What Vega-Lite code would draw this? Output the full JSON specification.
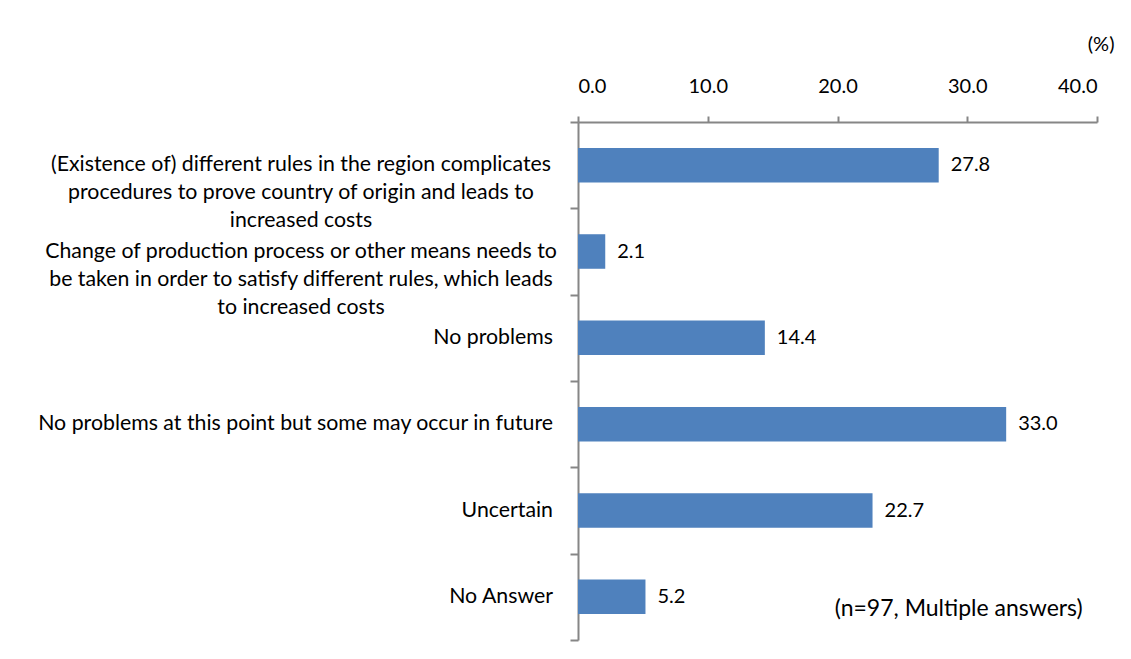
{
  "$schema": "https://vega.github.io/schema/vega-lite/v6.json",
  "width": 519,
  "height": 518,
  "autosize": {"type": "none"},
  "padding": {"left": 578, "top": 122, "right": 34, "bottom": 19},
  "background": "white",
  "config": {"font": "Lato", "view": {"stroke": null}},
  "data": {"values": [
    {"item": "(Existence of) different rules in the region complicates|procedures to prove country of origin and leads to|increased costs", "pct": 27.8, "note": null},
    {"item": "Change of production process or other means needs to|be taken in order to satisfy different rules, which leads|to increased costs", "pct": 2.1, "note": null},
    {"item": "No problems", "pct": 14.4, "note": null},
    {"item": "No problems at this point but some may occur in future", "pct": 33.0, "note": null},
    {"item": "Uncertain", "pct": 22.7, "note": null},
    {"item": "No Answer", "pct": 5.2, "note": "(n=97, Multiple answers)"}
  ]},
  "encoding": {
    "y": {
      "field": "item", "type": "nominal", "sort": null,
      "scale": {"paddingInner": 0, "paddingOuter": 0},
      "axis": {
        "title": null,
        "orient": "left",
        "labels": false,
        "domainColor": "#868686", "domainWidth": 2,
        "tickColor": "#868686", "tickWidth": 2, "tickSize": 8,
        "tickBand": "extent"
      }
    }
  },
  "layer": [
    {
      "mark": {"type": "bar", "color": "#4F81BD", "height": {"band": 0.4}},
      "encoding": {
        "x": {
          "field": "pct", "type": "quantitative",
          "scale": {"domain": [0, 40], "nice": false},
          "axis": {
            "orient": "top",
            "values": [0, 10, 20, 30, 40],
            "format": ".1f",
            "grid": false,
            "domainColor": "#868686", "domainWidth": 2,
            "tickColor": "#868686", "tickWidth": 2, "tickSize": 6,
            "labelFont": "Lato", "labelFontSize": 20, "labelColor": "#000000",
            "labelPadding": 20,
            "title": "(%)",
            "titleFont": "Lato", "titleFontSize": 20, "titleFontWeight": "normal", "titleColor": "#000000",
            "titleAngle": 0, "titleAlign": "right", "titleBaseline": "middle",
            "titleX": 536, "titleY": -78
          }
        }
      }
    },
    {
      "mark": {"type": "text", "align": "left", "baseline": "middle", "dx": 12, "fontSize": 20, "color": "#000000"},
      "encoding": {
        "x": {"field": "pct", "type": "quantitative"},
        "text": {"field": "pct", "type": "quantitative", "format": ".1f"}
      }
    },
    {
      "transform": [{"filter": "indexof(datum.item, '|') < 0"}],
      "mark": {"type": "text", "align": "right", "baseline": "middle", "dx": -25, "fontSize": 21.3, "color": "#000000"},
      "encoding": {
        "x": {"datum": 0},
        "text": {"field": "item"}
      }
    },
    {
      "transform": [{"filter": "indexof(datum.item, '|') >= 0"}],
      "mark": {"type": "text", "align": "center", "baseline": "middle", "dx": -277, "fontSize": 21.3, "lineBreak": "|", "lineHeight": 28, "color": "#000000"},
      "encoding": {
        "x": {"datum": 0},
        "text": {"field": "item"}
      }
    },
    {
      "transform": [{"filter": "datum.note != null"}],
      "mark": {"type": "text", "align": "right", "baseline": "middle", "dy": 12, "fontSize": 23, "color": "#000000"},
      "encoding": {
        "x": {"datum": 38.9},
        "text": {"field": "note"}
      }
    }
  ]
}
